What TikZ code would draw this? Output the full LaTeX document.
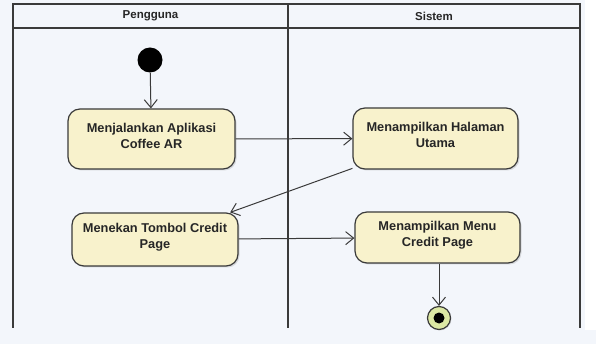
\documentclass[tikz,border=0pt]{standalone}
\usepackage{fontspec}
\setmainfont{Liberation Sans}
\usetikzlibrary{arrows.meta,shadows}
\definecolor{bgc}{HTML}{F3F6FB}
\definecolor{linec}{HTML}{3A3A3A}
\definecolor{actfill}{HTML}{F8F2CC}
\definecolor{endfill}{HTML}{DCE8A4}
\newcommand{\lowstrut}{\rule[-7pt]{0pt}{7pt}}
\tikzset{
  lane/.style={draw=linec, line width=1.5pt},
  action/.style={draw=linec, line width=1.2pt, fill=actfill, rounded corners=12pt,
    align=center, font=\bfseries\fontsize{12.8}{16}\selectfont, text=black!85,
    drop shadow={shadow xshift=1.5pt, shadow yshift=-1.5pt, opacity=0.25}},
  flow/.style={draw=linec, line width=1pt, -{Straight Barb[length=8pt,width=13pt]}},
  lanehead/.style={font=\bfseries\fontsize{11.5}{13}\selectfont, text=black!85}
}
\begin{document}
\begin{tikzpicture}[x=1pt,y=-1pt]
  \useasboundingbox (0,0) rectangle (596,344);
  \fill[bgc] (0,0) rectangle (596,344);
  \fill[white] (585,0) rectangle (596,330);

  % swimlane frame
  \draw[lane] (13,4) rectangle (580,28);
  \draw[lane] (288,4) -- (288,328);
  \draw[lane] (13,28) -- (13,328);
  \draw[lane] (580,28) -- (580,328);
  \node[lanehead] (hU) at (150.5,16) {Pengguna};
  \node[lanehead] (hS) at (434,16) {Sistem};

  % start and end
  \node[circle, fill=black, minimum size=25pt, inner sep=0pt] (start) at (150,60) {};
  \node[circle, draw=linec, line width=1.2pt, fill=endfill, minimum size=23pt, inner sep=0pt,
        drop shadow={shadow xshift=1pt, shadow yshift=-1pt, opacity=0.2}] (stop) at (439,318) {};
  \fill[black] (stop.center) circle (5.5pt);

  % actions
  \node[action, minimum width=167pt, minimum height=60pt] (a1) at (151.5,139)
    {Menjalankan Aplikasi\\Coffee AR\lowstrut};
  \node[action, minimum width=165pt, minimum height=61pt] (s1) at (435.5,138.5)
    {Menampilkan Halaman\\Utama\lowstrut};
  \node[action, minimum width=166pt, minimum height=53pt] (a2) at (155,239.5)
    {Menekan Tombol Credit\\Page\lowstrut};
  \node[action, minimum width=165pt, minimum height=51pt] (s2) at (437.5,237.5)
    {Menampilkan Menu\\Credit Page\lowstrut};

  % control flow
  \draw[flow] (start) -- (a1);
  \draw[flow] (a1) -- (s1);
  \draw[flow] (s1) -- (a2);
  \draw[flow] (a2) -- (s2);
  \draw[flow] (s2.south -| stop) -- (stop);
\end{tikzpicture}
\end{document}
